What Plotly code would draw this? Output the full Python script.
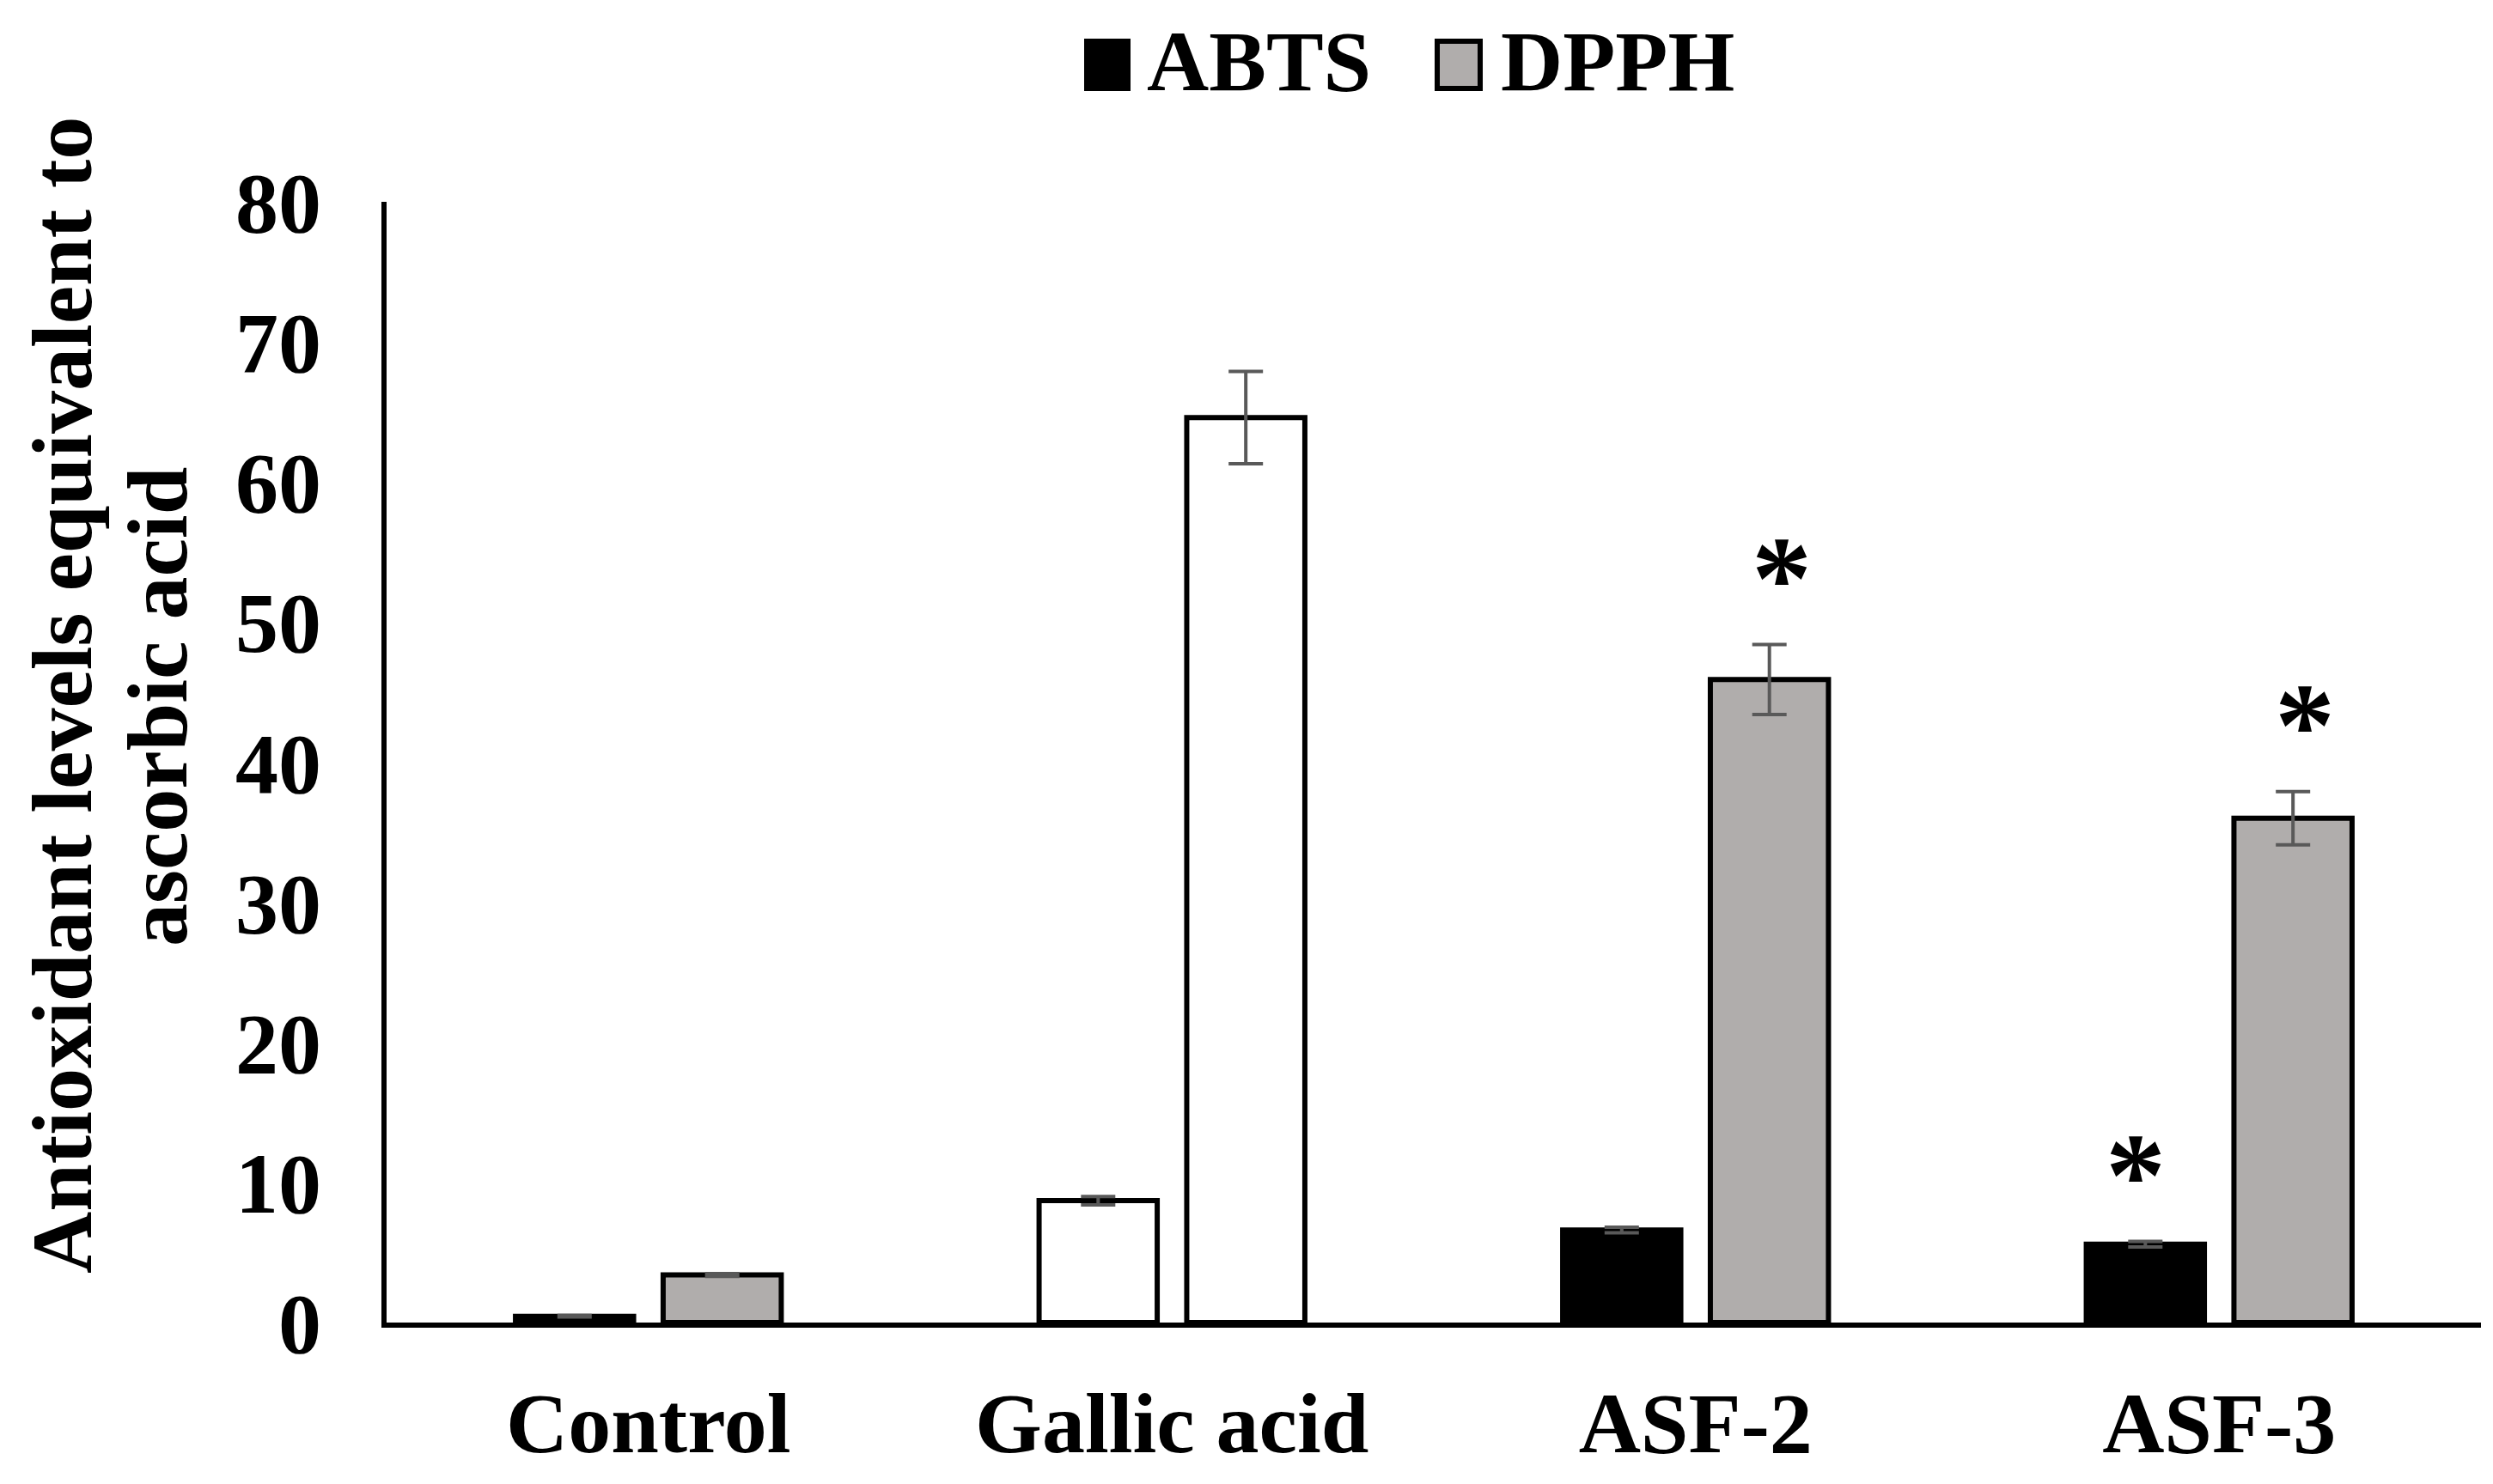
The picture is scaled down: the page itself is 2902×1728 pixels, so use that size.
import plotly.graph_objects as go

# -- Datos ---------------------------------------------------------------------
CATEGORIES = ["Control", "Gallic acid", "ASF-2", "ASF-3"]
ABTS = [0.45, 8.7, 6.6, 5.6]
ABTS_ERR = [0.05, 0.3, 0.2, 0.2]
DPPH = [3.4, 64.6, 45.9, 36.0]
DPPH_ERR = [0.1, 3.3, 2.5, 1.9]
ABTS_SIG = [False, False, False, True]
DPPH_SIG = [False, False, True, True]
Y_TICKS = [0, 10, 20, 30, 40, 50, 60, 70, 80]
REF_GROUP = "Gallic acid"   # grupo de referencia dibujado sin relleno

# -- Estilo ------------------------------------------------------------------
# la pagina tiene 8 px de margen en el body: la figura se achica para caber
BODY = 8
W, H = 2902 - 2 * BODY, 1728 - 2 * BODY
MARGIN = dict(l=442, r=6, t=227, b=180)
FONT = "Liberation Serif, Times New Roman, serif"
GREY = "#B0ADAC"
BARGAP = 0.436
OFFSET = (1 - BARGAP) / 4


def px_x(px):
    # px en coordenadas de pantalla -> fraccion del area de trazado
    return (px - BODY - MARGIN["l"]) / (W - MARGIN["l"] - MARGIN["r"])


def px_y(py):
    return (H - MARGIN["b"] - (py - BODY)) / (H - MARGIN["t"] - MARGIN["b"])


def fills(color):
    return ["white" if c == REF_GROUP else color for c in CATEGORIES]


fig = go.Figure()
err_style = dict(type="data", color="#595959", thickness=4, width=20)
for name, vals, errs, color in [("ABTS", ABTS, ABTS_ERR, "black"),
                                ("DPPH", DPPH, DPPH_ERR, GREY)]:
    fig.add_trace(go.Bar(
        x=CATEGORIES, y=vals, name=name,
        marker=dict(color=fills(color), line=dict(color="black", width=6)),
        error_y=dict(array=errs, **err_style),
    ))

annotations = []
for sign, shift, vals, errs, sig in [(-1, -11, ABTS, ABTS_ERR, ABTS_SIG),
                                     (1, 14, DPPH, DPPH_ERR, DPPH_SIG)]:
    for i, (v, e, s) in enumerate(zip(vals, errs, sig)):
        if s:
            annotations.append(dict(
                x=i + sign * OFFSET, y=v + e, xref="x", yref="y",
                text="*", showarrow=False, yanchor="middle",
                xshift=shift, yshift=77,
                font=dict(family=FONT, size=140, color="black", weight="bold"),
            ))

# titulo eje y en dos lineas
for text, cx, cy in [("Antioxidant levels equivalent to", 72, 810),
                     ("ascorbic acid", 183, 823)]:
    annotations.append(dict(
        x=px_x(cx), y=px_y(cy), xref="paper", yref="paper", text=text,
        textangle=-90, showarrow=False, xanchor="center", yanchor="middle",
        font=dict(family=FONT, size=100, color="black", weight="bold"),
    ))

# leyenda manual con cuadros grandes
shapes = []
for name, color, x0, x1, tx in [("ABTS", "black", 1265, 1313, 1333),
                                ("DPPH", GREY, 1673, 1723, 1745)]:
    shapes.append(dict(type="rect", xref="paper", yref="paper",
                       x0=px_x(x0), x1=px_x(x1), y0=px_y(103), y1=px_y(48),
                       fillcolor=color, line=dict(color="black", width=6)))
    annotations.append(dict(
        x=px_x(tx), y=px_y(72), xref="paper", yref="paper", text=name,
        showarrow=False, xanchor="left", yanchor="middle",
        font=dict(family=FONT, size=100, color="black", weight="bold"),
    ))

fig.update_layout(
    width=W, height=H, margin=MARGIN,
    barmode="group", bargap=BARGAP, bargroupgap=0.2,
    showlegend=False,
    plot_bgcolor="white", paper_bgcolor="white",
    font=dict(family=FONT, color="black"),
    xaxis=dict(showline=True, linecolor="black", linewidth=6,
               showgrid=False, zeroline=False, ticks="",
               ticklabelstandoff=25,
               tickfont=dict(family=FONT, size=100, color="black",
                             weight="bold")),
    yaxis=dict(range=[0, 80], tickvals=Y_TICKS,
               showline=True, linecolor="black", linewidth=6,
               showgrid=False, zeroline=False, ticks="",
               ticklabelstandoff=50,
               tickfont=dict(family=FONT, size=100, color="black",
                             weight="bold")),
    annotations=annotations, shapes=shapes,
)

fig.write_html("out.html")
